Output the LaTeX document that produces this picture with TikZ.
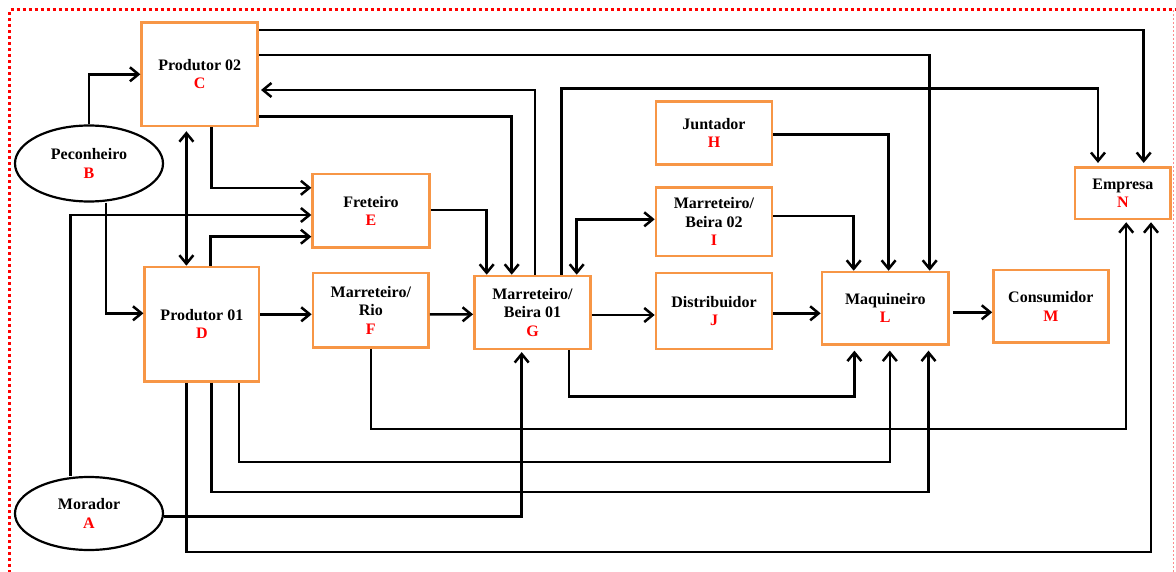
\documentclass[tikz,border=0pt]{standalone}
\usepackage{fontspec}
\setmainfont{Liberation Serif}
\usetikzlibrary{arrows.meta,shapes.geometric}
\definecolor{boxorange}{HTML}{F79646}
\begin{document}
\begin{tikzpicture}[x=1pt,y=-1pt,
  lbl/.style={font=\fontsize{16}{18.3}\selectfont\bfseries,align=center},
  box/.style={lbl,draw=boxorange,line width=2.6pt,fill=white,inner sep=0pt},
  ell/.style={lbl,draw=black,ellipse,line width=2.2pt,fill=white,inner sep=0pt},
  tip/.tip={Straight Barb[length=8.5pt,width=14pt]},
  conn/.style={line width=2.5pt,-tip},
  dconn/.style={line width=2.5pt,tip-tip},
  frame/.style={red,line width=3pt,dash pattern=on 3pt off 3pt}
]
\useasboundingbox (0,0) rectangle (1176,572);
\fill[white] (0,0) rectangle (1176,572);
% frame
\draw[frame] (9.6,585) -- (9.6,10) -- (1176,10);
\draw[red!45,line width=1.2pt,dash pattern=on 2pt off 2pt] (1173.3,10) -- (1173.3,585);

% nodes
\node[box,minimum width=116pt,minimum height=103.3pt] (C) at (199.7,74.3) {Produtor 02\\\textcolor{red}{C}};
\node[box,minimum width=114.3pt,minimum height=114.7pt] (D) at (201.9,324.3) {Produtor 01\\\textcolor{red}{D}};
\node[box,minimum width=116.7pt,minimum height=73.7pt] (E) at (371,210.8) {Freteiro\\\textcolor{red}{E}};
\node[box,minimum width=115.6pt,minimum height=74.7pt] (F) at (370.8,310.3) {Marreteiro/\\Rio\\\textcolor{red}{F}};
\node[box,minimum width=116.3pt,minimum height=72.8pt] (G) at (532.5,312.4) {Marreteiro/\\Beira 01\\\textcolor{red}{G}};
\node[box,minimum width=116pt,minimum height=62.6pt] (H) at (714,133) {Juntador\\\textcolor{red}{H}};
\node[box,minimum width=116pt,minimum height=68.7pt] (I) at (714,221.7) {Marreteiro/\\Beira 02\\\textcolor{red}{I}};
\node[box,minimum width=116pt,minimum height=76pt] (J) at (714,311) {Distribuidor\\\textcolor{red}{J}};
\node[box,minimum width=126.7pt,minimum height=72.3pt] (L) at (885.3,308.2) {Maquineiro\\\textcolor{red}{L}};
\node[box,minimum width=114.8pt,minimum height=72.7pt] (M) at (1050.9,306.3) {Consumidor\\\textcolor{red}{M}};
\node[box,minimum width=95.7pt,minimum height=51.7pt] (N) at (1122.9,193.1) {Empresa\\\textcolor{red}{N}};
\node[ell,minimum width=148pt,minimum height=76pt] (B) at (89,163.5) {Peconheiro\\\textcolor{red}{B}};
\node[ell,minimum width=148pt,minimum height=73pt] (A) at (89,513.5) {Morador\\\textcolor{red}{A}};

% connectors
\draw[conn] (B.north) |- (C.west);
\draw[conn] ([xshift=17pt]B.south) |- ([yshift=11pt]D.west);
\draw[dconn,shorten <=4pt] ([xshift=-13.3pt]C.south) -- ([xshift=-15.5pt]D.north);
\draw[conn] ([xshift=12pt]C.south) |- ([yshift=23pt]E.west);
\draw[conn] ([xshift=-18.6pt]A.north) |- ([yshift=-4.2pt]E.west);
\draw[conn] ([xshift=8.6pt]D.north) |- ([yshift=-25.9pt]E.west);
\draw[conn] ([yshift=0.8pt]E.east) -| ([xshift=-45.8pt]G.north);
\draw[conn] ([yshift=-42.4pt]C.east) -| ([xshift=-20.8pt]G.north);
\draw[conn,shorten >=2pt] ([xshift=2.5pt]G.north) |- ([yshift=-15.7pt]C.east);
\draw[conn,shorten >=3pt] ([xshift=29.2pt]G.north) -- ++(0,-186) -| ([xshift=-24.9pt]N.north);
\draw[conn,shorten >=3pt] ([yshift=44.3pt]C.east) -| ([xshift=20.8pt]N.north);
\draw[conn] ([yshift=19.3pt]C.east) -| ([xshift=44.4pt]L.north);
\draw[conn] ([yshift=-1.3pt]H.east) -| ([xshift=3.3pt]L.north);
\draw[conn] ([yshift=5.7pt]I.east) -| ([xshift=-31.6pt]L.north);
\draw[dconn] ([xshift=44.2pt]G.north) |- ([yshift=2.4pt]I.west);
\draw[conn] ([yshift=10pt]D.east) -- ([yshift=-4pt]F.west);
\draw[conn] ([yshift=-4pt]F.east) -- ([yshift=-1.9pt]G.west);
\draw[conn] ([yshift=-2.6pt]G.east) -- ([yshift=-4pt]J.west);
\draw[conn] ([yshift=-2.3pt]J.east) -- ([yshift=-5.1pt]L.west);
\draw[conn,shorten <=3pt] ([yshift=-4.1pt]L.east) -- ([yshift=-6pt]M.west);
\draw[conn,shorten >=2pt] ([yshift=-3pt]A.east) -| ([xshift=-10.8pt]G.south);
\draw[conn,shorten >=5pt] ([xshift=36.5pt]G.south) -- ++(0,46.2) -| ([xshift=-30.9pt]L.south);
\draw[conn,shorten >=2pt] (F.south) -- ++(0,80) -| ([xshift=3.3pt]N.south);
\draw[conn,shorten >=5pt] ([xshift=37.3pt]D.south) -- ++(0,79) -| ([xshift=4.5pt]L.south);
\draw[conn,shorten >=5pt] ([xshift=9.7pt]D.south) -- ++(0,109) -| ([xshift=43.2pt]L.south);
\draw[conn,shorten >=2pt] ([xshift=-15.5pt]D.south) -- ++(0,169) -| ([xshift=28.1pt]N.south);
\end{tikzpicture}
\end{document}
